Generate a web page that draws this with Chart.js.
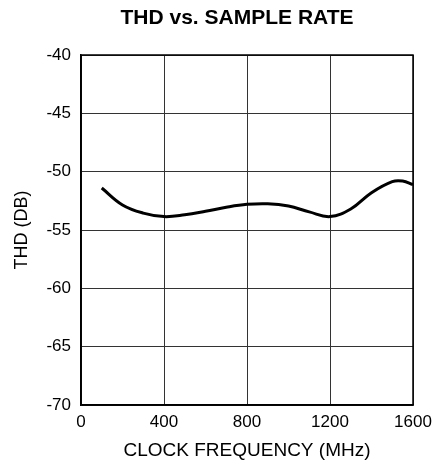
<!DOCTYPE html>
<html lang="en">
<head>
    <meta charset="UTF-8">
    <title>THD vs. Sample Rate</title>
    <style>
        html, body { margin: 0; padding: 0; background: #fff; }
        #wrap { width: 441px; height: 472px; }
    </style>
</head>
<body>
    <div id="wrap"><canvas id="myChart" width="441" height="472"></canvas></div>

    <script src="https://cdn.jsdelivr.net/npm/chart.js@4.4.0/dist/chart.umd.min.js"></script>
    <script>
    // clock frequency (MHz) and THD (dB)
    var clockMHz = [100, 200, 300, 400, 500, 600, 700, 800, 900, 1000, 1100, 1200, 1300, 1400, 1500, 1550, 1600];
    var thdDb = [-51.4, -52.85, -53.55, -53.85, -53.7, -53.4, -53.05, -52.8, -52.75, -52.95, -53.45, -53.85, -53.2, -51.8, -50.85, -50.8, -51.1];

    var xTicks = [0, 400, 800, 1200, 1600];
    var yMin = -70, yMax = -40, yStep = 5;
    var chartTitle = 'THD vs. SAMPLE RATE';

    var points = clockMHz.map(function(f, i) { return { x: f, y: thdDb[i] }; });
    var font = 'Liberation Sans, Arial';

    var ctx = document.getElementById("myChart").getContext("2d");
    var chart = new Chart(ctx, {
        type: 'line',
        data: {
            datasets: [{
                data: points,
                borderColor: '#000',
                borderWidth: 3,
                pointRadius: 0,
                tension: 0.4,
                fill: false
            }]
        },
        options: {
            responsive: false,
            animation: false,
            layout: { padding: { left: 0, right: 28, top: 55, bottom: 0 } },
            plugins: {
                legend: { display: false },
                tooltip: { enabled: false },
                title: { display: false }
            },
            scales: {
                x: {
                    type: 'linear',
                    min: 0, max: 1600,
                    afterBuildTicks: function(axis) {
                        axis.ticks = xTicks.map(function(v) { return { value: v }; });
                    },
                    afterFit: function(axis) { axis.height = 67; },
                    grid: { color: '#333', lineWidth: 1, drawTicks: false },
                    border: { color: '#000', width: 1.5 },
                    ticks: {
                        color: '#000', padding: 7,
                        font: { family: font, size: 17 },
                        callback: function(v) { return String(v); }
                    },
                    title: {
                        display: true,
                        text: 'CLOCK FREQUENCY (MHz)',
                        color: '#000',
                        font: { family: font, size: 19 },
                        padding: { bottom: 10 }
                    }
                },
                y: {
                    min: yMin, max: yMax,
                    afterFit: function(axis) { axis.width = 81; },
                    grid: { color: '#333', lineWidth: 1, drawTicks: false },
                    border: { color: '#000', width: 1.5 },
                    ticks: {
                        stepSize: yStep, color: '#000', padding: 10,
                        font: { family: font, size: 17 }
                    },
                    title: {
                        display: true,
                        text: 'THD (DB)',
                        color: '#000',
                        font: { family: font, size: 18 },
                        padding: { top: 11 }
                    }
                }
            }
        },
        plugins: [{
            // box around the plot, and the title centred over it
            id: 'frame',
            afterDraw: function(c) {
                var a = c.chartArea, g = c.ctx;
                g.save();
                g.strokeStyle = '#000';
                g.lineWidth = 1.5;
                g.strokeRect(a.left, a.top, a.right - a.left, a.bottom - a.top);
                g.fillStyle = '#000';
                g.font = 'bold 21px ' + font;
                g.textAlign = 'center';
                g.textBaseline = 'middle';
                g.fillText(chartTitle, (a.left + a.right) / 2 - 10, 18);
                g.restore();
            }
        }]
    });
    </script>
</body>
</html>
